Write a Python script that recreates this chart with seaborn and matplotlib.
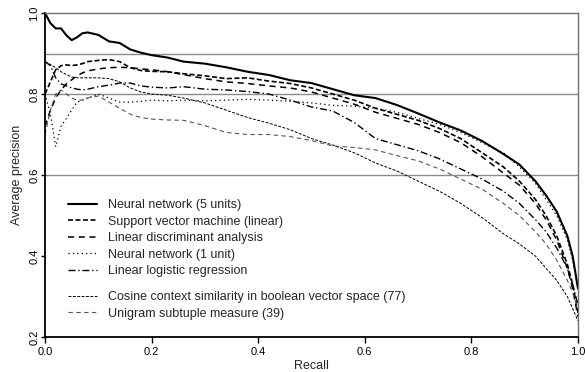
import matplotlib
matplotlib.use("Agg")
import matplotlib.pyplot as plt
import seaborn as sns

sns.set_style("white")
plt.rcParams['font.family'] = ['Liberation Sans', 'DejaVu Sans']

recall = [0.0, 0.01, 0.02, 0.03, 0.04, 0.05, 0.06, 0.07, 0.08, 0.10, 0.12, 0.14,
          0.16, 0.18, 0.20, 0.23, 0.26, 0.30, 0.34, 0.38, 0.42, 0.46, 0.50, 0.54,
          0.58, 0.62, 0.66, 0.70, 0.74, 0.78, 0.82, 0.86, 0.89, 0.92, 0.94, 0.96,
          0.98, 0.99, 1.0]

nn5 = [1.0, 0.975, 0.962, 0.962, 0.945, 0.933, 0.94, 0.95, 0.952, 0.946, 0.93, 0.926,
       0.91, 0.902, 0.896, 0.89, 0.88, 0.875, 0.866, 0.855, 0.847, 0.834, 0.827, 0.812,
       0.797, 0.79, 0.773, 0.752, 0.73, 0.71, 0.684, 0.652, 0.626, 0.585, 0.55, 0.51,
       0.45, 0.40, 0.32]
svm = [0.80, 0.83, 0.86, 0.87, 0.872, 0.87, 0.872, 0.875, 0.88, 0.883, 0.885, 0.88,
       0.865, 0.858, 0.856, 0.855, 0.85, 0.845, 0.838, 0.84, 0.832, 0.826, 0.815, 0.80,
       0.785, 0.765, 0.75, 0.735, 0.715, 0.69, 0.655, 0.62, 0.585, 0.54, 0.50, 0.45,
       0.38, 0.33, 0.26]
lda = [0.72, 0.76, 0.79, 0.81, 0.825, 0.835, 0.845, 0.852, 0.857, 0.862, 0.865, 0.866,
       0.865, 0.862, 0.86, 0.855, 0.848, 0.838, 0.83, 0.826, 0.82, 0.815, 0.805, 0.79,
       0.775, 0.755, 0.74, 0.725, 0.705, 0.68, 0.645, 0.605, 0.575, 0.53, 0.49, 0.44,
       0.37, 0.32, 0.25]
nn1 = [0.80, 0.75, 0.67, 0.72, 0.74, 0.76, 0.78, 0.785, 0.79, 0.80, 0.79, 0.78,
       0.78, 0.782, 0.785, 0.783, 0.785, 0.783, 0.785, 0.787, 0.785, 0.782, 0.778, 0.772,
       0.77, 0.765, 0.755, 0.74, 0.725, 0.705, 0.68, 0.655, 0.62, 0.58, 0.54, 0.50,
       0.44, 0.39, 0.32]
logreg = [0.88, 0.87, 0.84, 0.825, 0.82, 0.815, 0.812, 0.81, 0.812, 0.818, 0.822, 0.827,
          0.827, 0.82, 0.817, 0.815, 0.818, 0.812, 0.81, 0.806, 0.80, 0.785, 0.768, 0.758,
          0.73, 0.69, 0.675, 0.66, 0.64, 0.615, 0.59, 0.56, 0.53, 0.49, 0.46, 0.42,
          0.37, 0.33, 0.28]
cosine = [0.88, 0.873, 0.865, 0.855, 0.848, 0.842, 0.84, 0.84, 0.84, 0.84, 0.838, 0.83,
          0.815, 0.805, 0.80, 0.797, 0.79, 0.778, 0.76, 0.742, 0.728, 0.712, 0.69, 0.674,
          0.655, 0.63, 0.61, 0.585, 0.56, 0.53, 0.495, 0.455, 0.43, 0.40, 0.37, 0.34,
          0.30, 0.27, 0.24]
unigram = [0.70, 0.76, 0.80, 0.81, 0.80, 0.79, 0.785, 0.785, 0.79, 0.795, 0.78, 0.765,
           0.75, 0.742, 0.738, 0.736, 0.735, 0.722, 0.705, 0.70, 0.70, 0.695, 0.685, 0.672,
           0.668, 0.662, 0.648, 0.635, 0.615, 0.59, 0.565, 0.53, 0.50, 0.46, 0.43, 0.39,
           0.34, 0.31, 0.27]

labels = ["Neural network (5 units)", "Support vector machine (linear)",
          "Linear discriminant analysis", "Neural network (1 unit)",
          "Linear logistic regression",
          "Cosine context similarity in boolean vector space (77)",
          "Unigram subtuple measure (39)"]
series = [nn5, svm, lda, nn1, logreg, cosine, unigram]
styles = [
    dict(color="black", linestyle="-", lw=1.5),
    dict(color="black", linestyle=(0, (3, 1.5)), lw=1.2),
    dict(color="black", linestyle=(0, (4, 3)), lw=1.1),
    dict(color="black", linestyle=(0, (1, 2.5)), lw=0.9),
    dict(color="black", linestyle=(0, (5, 2, 1, 2)), lw=1.0),
    dict(color="black", linestyle=(0, (3, 1.5)), lw=0.7),
    dict(color="#555555", linestyle=(0, (4, 3)), lw=0.8),
]
grid_levels = [0.6, 0.8, 0.9]

fig = plt.figure(figsize=(5.85, 3.72), dpi=100)
ax = fig.add_axes([0.077, 0.094, 0.911, 0.871])

for lvl in grid_levels:
    ax.axhline(lvl, color="#8a8a8a", lw=1.0, zorder=0)

for vals, lab, st in zip(series, labels, styles):
    sns.lineplot(x=recall, y=vals, ax=ax, label=lab, **st)

ax.set_xlim(0, 1.0)
ax.set_ylim(0.2, 1.0)
ax.set_xticks([0.0, 0.2, 0.4, 0.6, 0.8, 1.0])
ax.set_yticks([0.2, 0.4, 0.6, 0.8, 1.0])
ax.set_xticklabels(["0.0", "0.2", "0.4", "0.6", "0.8", "1.0"])
ax.set_yticklabels(["0.2", "0.4", "0.6", "0.8", "1.0"], rotation=90, va="center")
ax.tick_params(axis="both", direction="out", width=1, labelsize=8,
               colors="black", bottom=True, left=True)
ax.tick_params(axis="x", length=4, pad=3)
ax.tick_params(axis="y", length=3, pad=1)
ax.set_xlabel("Recall", fontsize=9, labelpad=2)
ax.set_ylabel("Average precision", fontsize=9, labelpad=5)

for s in ["left", "bottom"]:
    ax.spines[s].set_color("black")
    ax.spines[s].set_linewidth(1.3)
for s in ["top", "right"]:
    ax.spines[s].set_color("#707070")
    ax.spines[s].set_linewidth(1.0)

handles, labs = ax.get_legend_handles_labels()
ax.get_legend().remove()
leg_kw = dict(loc="upper left", frameon=False, fontsize=9, handlelength=2.3,
              handletextpad=0.9, labelspacing=0.35, borderaxespad=0)
leg1 = ax.legend(handles[:5], labs[:5], bbox_to_anchor=(0.034, 0.44), **leg_kw)
ax.add_artist(leg1)
ax.legend(handles[5:], labs[5:], bbox_to_anchor=(0.034, 0.157), **leg_kw)

fig.savefig("out.png", dpi=100)
